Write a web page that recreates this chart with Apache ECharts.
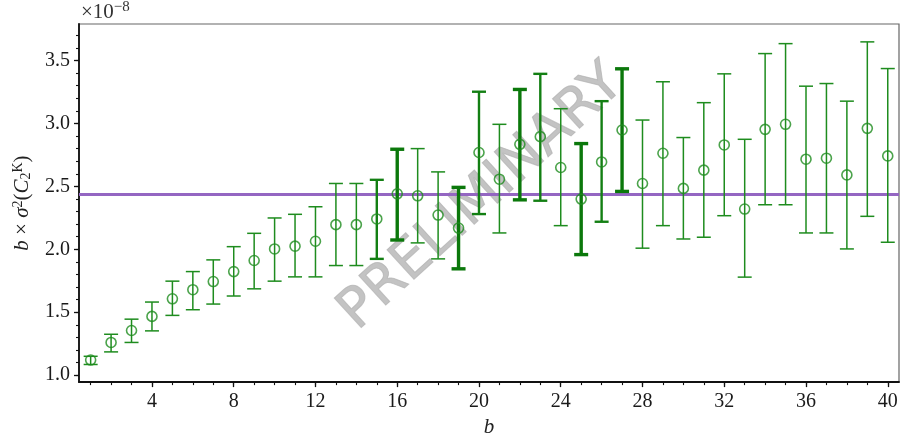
<!DOCTYPE html>
<html>
<head>
<meta charset="utf-8">
<script src="https://cdn.jsdelivr.net/npm/echarts@6/dist/echarts.min.js"></script>
<style>
  html, body { margin: 0; padding: 0; background: #fff; }
  #chart { width: 901px; height: 443px; }
</style>
</head>
<body>
<div id="chart"></div>
<script>
// b values (bin count) and b * sigma^2(C_2^K), in units of 1e-8
const bins = [1, 2, 3, 4, 5, 6, 7, 8, 9, 10, 11, 12, 13, 14, 15, 16, 17, 18, 19, 20,
              21, 22, 23, 24, 25, 26, 27, 28, 29, 30, 31, 32, 33, 34, 35, 36, 37, 38, 39, 40];
const centers = [1.12, 1.26, 1.355, 1.467, 1.607, 1.679, 1.744, 1.823, 1.911, 2.003,
                 2.025, 2.064, 2.196, 2.196, 2.241, 2.441, 2.425, 2.272, 2.169, 2.769,
                 2.557, 2.834, 2.895, 2.65, 2.399, 2.694, 2.948, 2.523, 2.763, 2.484,
                 2.629, 2.829, 2.32, 2.953, 2.993, 2.716, 2.724, 2.591, 2.961, 2.742];
const lowers = [1.085, 1.185, 1.26, 1.352, 1.475, 1.52, 1.565, 1.629, 1.686, 1.747,
                1.781, 1.781, 1.871, 1.871, 1.924, 2.074, 2.051, 1.924, 1.845, 2.28,
                2.13, 2.393, 2.386, 2.188, 1.958, 2.219, 2.46, 2.009, 2.188, 2.082,
                2.096, 2.267, 1.779, 2.354, 2.354, 2.13, 2.13, 2.003, 2.262, 2.056];
const uppers = [1.15, 1.325, 1.445, 1.581, 1.747, 1.823, 1.916, 2.021, 2.127, 2.249,
                2.278, 2.338, 2.523, 2.523, 2.552, 2.795, 2.80, 2.615, 2.492, 3.252,
                2.993, 3.27, 3.394, 3.117, 2.84, 3.177, 3.434, 3.027, 3.331, 2.888,
                3.165, 3.394, 2.874, 3.555, 3.634, 3.296, 3.317, 3.177, 3.648, 3.436];
const refLevel = 2.445;

const xLabels = [4, 8, 12, 16, 20, 24, 28, 32, 36, 40];
const yLabels = [1.0, 1.5, 2.0, 2.5, 3.0, 3.5];
const yMinor = [1.0, 1.1, 1.2, 1.3, 1.4, 1.5, 1.6, 1.7, 1.8, 1.9, 2.0, 2.1, 2.2, 2.3, 2.4,
                2.5, 2.6, 2.7, 2.8, 2.9, 3.0, 3.1, 3.2, 3.3, 3.4, 3.5, 3.6, 3.7];

// bars that are drawn heavier in the original
const thickBins = [16, 19, 22, 25, 27];
const mediumBins = [15, 20, 23, 26];

const green = '#1e8c1e';
const font = '"Liberation Serif", "DejaVu Serif", serif';
const xMin = 0.43, xMax = 40.55, yMin = 0.945, yMax = 3.79;

const chart = echarts.init(document.getElementById('chart'));

const errData = bins.map((b, i) => [b, lowers[i], uppers[i]]);
const ptData = bins.map((b, i) => [b, centers[i]]);

function renderErr(params, api) {
    const b = api.value(0);
    const lo = api.coord([b, api.value(1)]);
    const hi = api.coord([b, api.value(2)]);
    let w = 1.5, col = green;
    if (thickBins.includes(b)) { w = 3.4; col = '#0b780b'; }
    else if (mediumBins.includes(b)) { w = 2.4; col = '#137f13'; }
    const half = 7;
    const style = { stroke: col, lineWidth: w };
    return {
        type: 'group',
        children: [
            { type: 'line', shape: { x1: lo[0], y1: lo[1], x2: hi[0], y2: hi[1] }, style: style },
            { type: 'line', shape: { x1: lo[0] - half, y1: lo[1], x2: lo[0] + half, y2: lo[1] }, style: style },
            { type: 'line', shape: { x1: hi[0] - half, y1: hi[1], x2: hi[0] + half, y2: hi[1] }, style: style }
        ]
    };
}

const option = {
    animation: false,
    backgroundColor: '#fff',
    grid: {
        left: 79, right: 2, top: 24, bottom: 59,
        show: true, borderColor: '#666', borderWidth: 1.2
    },
    graphic: [
        {
            type: 'text', left: 81, top: 0,
            style: {
                text: '×10{sup|−8}',
                font: '21px ' + font,
                fill: '#333',
                rich: { sup: { fontSize: 15, fontFamily: font, verticalAlign: 'top', padding: [0, 0, 9, 0] } }
            }
        },
        {
            type: 'text', x: 482, y: 198, rotation: 0.74, z: 1,
            style: {
                text: 'PRELIMINARY',
                font: '55px "DejaVu Sans", sans-serif',
                fill: 'rgba(175,175,175,0.75)',
                stroke: 'rgba(150,150,150,0.5)', lineWidth: 1,
                align: 'center', verticalAlign: 'middle'
            }
        }
    ],
    xAxis: [
        {
            type: 'value', min: xMin, max: xMax,
            name: 'b', nameLocation: 'middle', nameGap: 32,
            nameTextStyle: { fontFamily: font, fontSize: 21, fontStyle: 'italic', color: '#222' },
            axisLine: { lineStyle: { color: '#111', width: 1.8 } },
            axisTick: { customValues: xLabels, length: 5, lineStyle: { color: '#111', width: 1.3 } },
            axisLabel: { customValues: xLabels, margin: 10, fontFamily: font, fontSize: 20, color: '#1a1a1a' },
            splitLine: { show: false }
        },
        {
            type: 'value', min: xMin, max: xMax, position: 'bottom',
            axisLine: { show: false },
            axisTick: { customValues: bins, length: 3, lineStyle: { color: '#111', width: 1.1 } },
            axisLabel: { show: false },
            splitLine: { show: false }
        }
    ],
    yAxis: [
        {
            type: 'value', min: yMin, max: yMax,
            name: '{i|b} × {i|σ}{sup|2}({i|C}{sub|2}{sup|K})',
            nameLocation: 'middle', nameGap: 46,
            nameTextStyle: {
                fontFamily: font, fontSize: 21, color: '#222',
                rich: {
                    i: { fontFamily: font, fontSize: 21, fontStyle: 'italic', color: '#222' },
                    sup: { fontFamily: font, fontSize: 14, verticalAlign: 'top', color: '#222', padding: [0, 0, 8, 0] },
                    sub: { fontFamily: font, fontSize: 14, verticalAlign: 'bottom', color: '#222', padding: [8, 0, 0, 0] }
                }
            },
            axisLine: { show: true, lineStyle: { color: '#111', width: 1.8 } },
            axisTick: { show: true, customValues: yLabels, length: 5, lineStyle: { color: '#111', width: 1.3 } },
            axisLabel: {
                customValues: yLabels, margin: 9, fontFamily: font, fontSize: 20, color: '#1a1a1a',
                formatter: v => v.toFixed(1)
            },
            splitLine: { show: false }
        },
        {
            type: 'value', min: yMin, max: yMax, position: 'left',
            axisLine: { show: false },
            axisTick: { show: true, customValues: yMinor, length: 3, lineStyle: { color: '#111', width: 1.1 } },
            axisLabel: { show: false },
            splitLine: { show: false }
        }
    ],
    series: [
        {
            type: 'custom',
            xAxisIndex: 0, yAxisIndex: 0,
            renderItem: renderErr,
            encode: { x: 0, y: [1, 2] },
            data: errData,
            z: 3
        },
        {
            type: 'scatter',
            xAxisIndex: 0, yAxisIndex: 0,
            data: ptData,
            symbol: 'circle',
            symbolSize: 10,
            itemStyle: { color: 'rgba(0,0,0,0)', borderColor: green, borderWidth: 1.6 },
            z: 4,
            markLine: {
                silent: true, symbol: 'none', z: 2,
                label: { show: false },
                lineStyle: { color: '#9466c2', width: 3, type: 'solid' },
                data: [{ yAxis: refLevel }]
            }
        }
    ]
};

chart.setOption(option);
</script>
</body>
</html>
